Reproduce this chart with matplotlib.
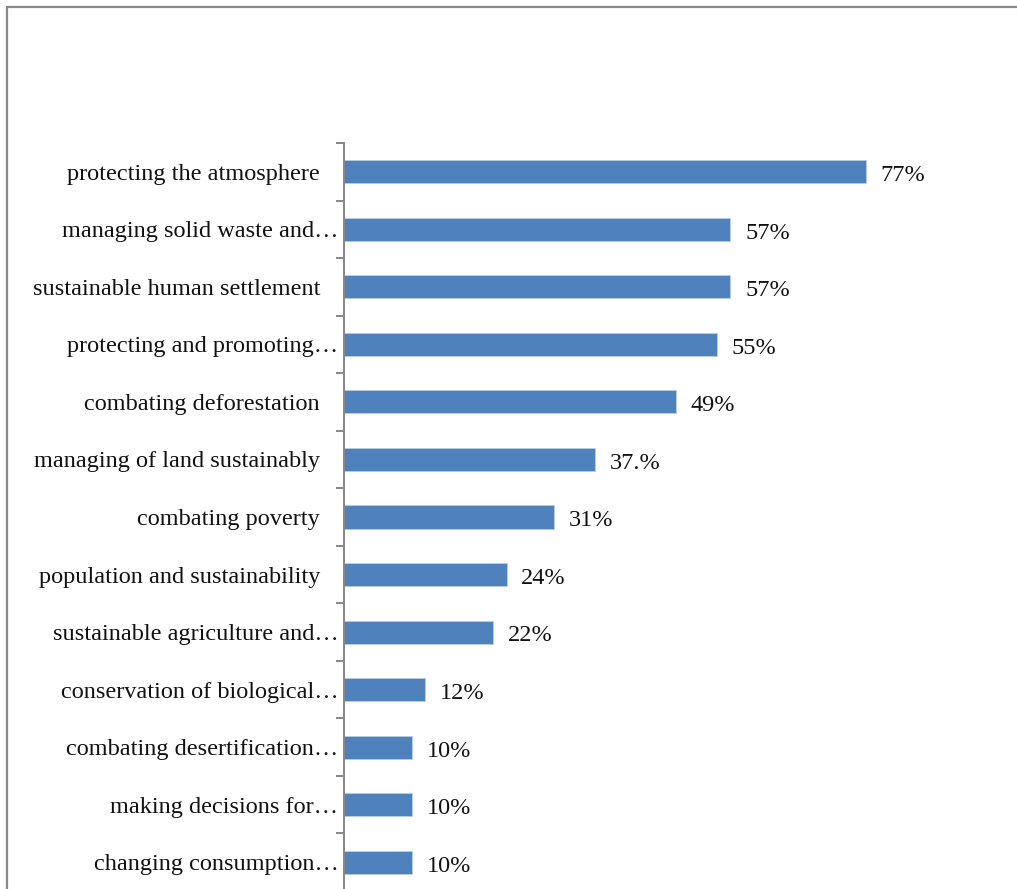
import matplotlib
matplotlib.use("Agg")
import matplotlib.pyplot as plt
from matplotlib.patches import Rectangle
from matplotlib.ticker import FixedLocator

OUTPUT_FILE = "out.png"

# Topics, top to bottom, with the share of respondents for each.
topics = [
    "protecting the atmosphere   ",
    "managing solid waste and\u2026",
    "sustainable human settlement   ",
    "protecting and promoting\u2026",
    "combating deforestation   ",
    "managing of land sustainably   ",
    "combating poverty   ",
    "population and sustainability   ",
    "sustainable agriculture and\u2026",
    "conservation of biological\u2026",
    "combating desertification\u2026",
    "making decisions for\u2026",
    "changing consumption\u2026",
]
shares = [77, 57, 57, 55, 49, 37, 31, 24, 22, 12, 10, 10, 10]
share_labels = ["77%", "57%", "57%", "55%", "49%", "37.%", "31%",
                "24%", "22%", "12%", "10%", "10%", "10%"]

BAR_COLOR = "#4F81BD"
AXIS_COLOR = "#868686"
FONT_SIZE = 17.5

plt.rcParams["font.family"] = ["Liberation Serif", "DejaVu Serif"]

W, H = 1017, 889
fig = plt.figure(figsize=(W / 100, H / 100), dpi=100)
fig.patch.set_facecolor("white")

# Plot area in pixel terms: spine at x=344, top at y=143, runs off the bottom edge.
left, top, bottom = 344, 143, 891
ax = fig.add_axes([left / W, 1 - bottom / H, (W - left) / W, (bottom - top) / H])
ax.set_facecolor("none")

n = len(topics)
ypos = list(range(n))
ax.barh(ypos, shares, height=0.4, color=BAR_COLOR, edgecolor="#B9CDE5",
        linewidth=0.6)

px_per_unit = 6.78
ax.set_xlim(0, (W - left) / px_per_unit)
ax.set_ylim(n - 0.5, -0.5)

for y, v, lab in zip(ypos, shares, share_labels):
    ax.annotate(lab, (v, y), textcoords="offset points", xytext=(10.5, -1),
                ha="left", va="center_baseline", fontsize=FONT_SIZE,
                color="#111111")

ax.set_yticks(ypos)
ax.set_yticklabels(topics, fontsize=FONT_SIZE, color="#111111",
                   va="center_baseline")
ax.tick_params(axis="y", which="major", length=0, pad=4)
ax.yaxis.set_minor_locator(FixedLocator([i - 0.5 for i in range(n + 1)]))
ax.tick_params(axis="y", which="minor", length=6, width=1.4, color=AXIS_COLOR)
ax.set_xticks([])

for side in ["top", "right", "bottom"]:
    ax.spines[side].set_visible(False)
ax.spines["left"].set_color(AXIS_COLOR)
ax.spines["left"].set_linewidth(1.4)

# Outer chart frame; only its top and left edges fall inside the image.
frame = Rectangle((6.5 / W, -0.2), 1.5, 1 - 6.5 / H + 0.2, transform=fig.transFigure,
                  fill=False, edgecolor="#8A8A8A", linewidth=1.6)
fig.patches.append(frame)

fig.savefig(OUTPUT_FILE, dpi=100)
